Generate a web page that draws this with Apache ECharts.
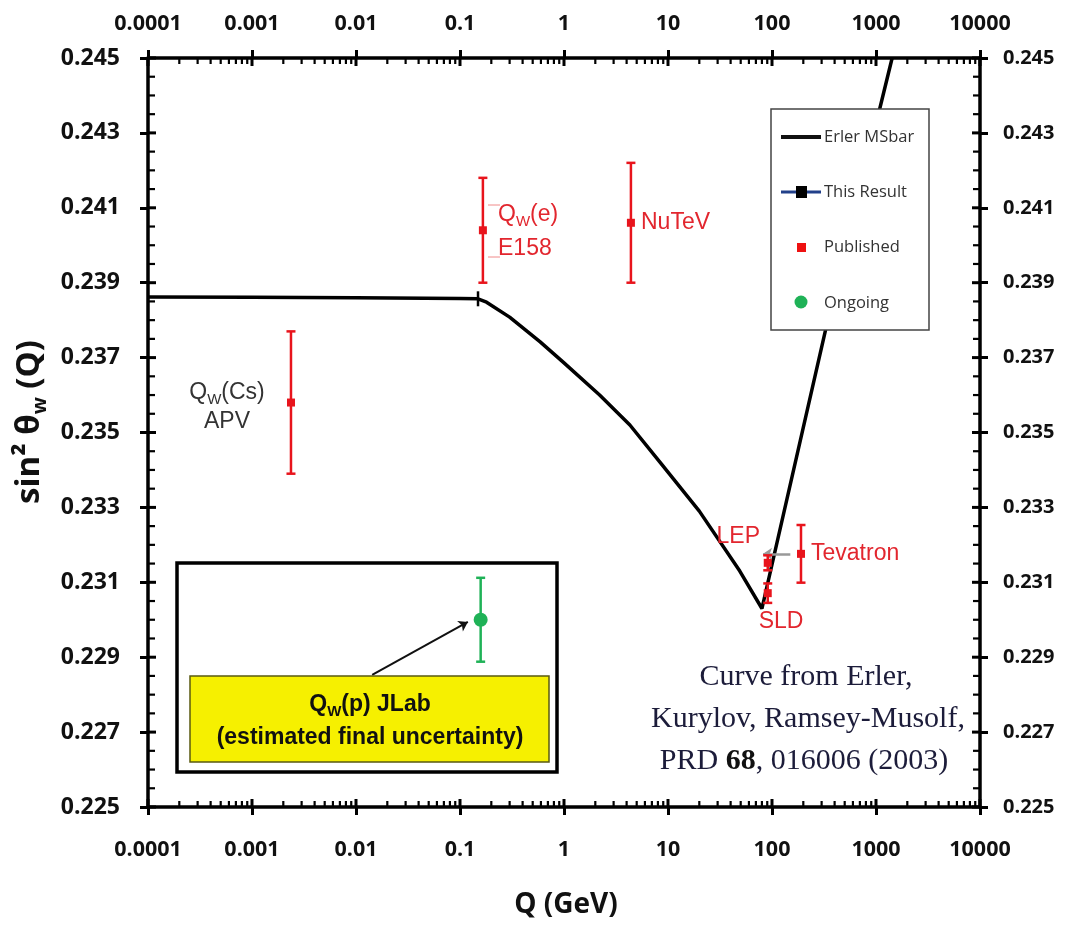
<!DOCTYPE html>
<html>
<head>
<meta charset="utf-8">
<script src="https://cdn.jsdelivr.net/npm/echarts@6/dist/echarts.min.js"></script>
<style>
  html, body { margin: 0; padding: 0; background: #fff; }
  #main { width: 1069px; height: 926px; }
</style>
</head>
<body>
<div id="main"></div>
<script>
// axis ranges and tick labels
const xMin = 0.0001, xMax = 10000;
const yMin = 0.225, yMax = 0.245, yStep = 0.002;
const xTickLabels = ["0.0001", "0.001", "0.01", "0.1", "1", "10", "100", "1000", "10000"];

// Erler MSbar running of sin^2 theta_W
const erlerQ = [0.0001, 0.001, 0.01, 0.1, 0.149, 0.18, 0.3, 0.59, 1.0, 2.2, 4.3, 8.4, 20, 49, 80, 325, 1430];
const erlerS = [0.23862, 0.23861, 0.2386, 0.23858, 0.23857, 0.23848, 0.23808, 0.23742, 0.23686, 0.236, 0.2352, 0.2342, 0.2329, 0.2313, 0.2303, 0.2377, 0.245];

// published measurements (red)
const pubNames = ["APV", "E158", "NuTeV", "LEP", "SLD", "Tevatron"];
const pubQ = [0.00237, 0.166, 4.4, 91, 91, 190];
const pubVal = [0.2358, 0.2404, 0.2406, 0.23152, 0.23071, 0.23176];
const pubErr = [0.0019, 0.0014, 0.0016, 0.0002, 0.00026, 0.00077];

// ongoing (green) and this result (black)
const ongoingQ = [0.158];
const ongoingVal = [0.2300];
const ongoingErr = [0.00112];
const thisQ = [0.149];
const thisVal = [0.23857];
const thisErr = [0.0002];

// annotation arrows [from, to]
const lepArrow = [[150, 0.23176], [82, 0.23176]];
const jlabArrow = [[0.0143, 0.22853], [0.119, 0.22994]];

const RED = "#e8141c";
const GREEN = "#1fb257";
const LABEL_RED = "#e2262e";
const AXIS_FONT = "'Open Sans'";

function toBars(qs, vals, errs) {
  return qs.map((q, i) => [q, vals[i], vals[i] - errs[i], vals[i] + errs[i]]);
}

function errorBarRenderer(color, shape, size, cap) {
  return function (params, api) {
    const q = api.value(0);
    const p = api.coord([q, api.value(1)]);
    const lo = api.coord([q, api.value(2)]);
    const hi = api.coord([q, api.value(3)]);
    const st = { stroke: color, lineWidth: 2.5 };
    const kids = [
      { type: "line", shape: { x1: p[0], y1: lo[1], x2: p[0], y2: hi[1] }, style: st },
      { type: "line", shape: { x1: p[0] - cap, y1: lo[1], x2: p[0] + cap, y2: lo[1] }, style: st },
      { type: "line", shape: { x1: p[0] - cap, y1: hi[1], x2: p[0] + cap, y2: hi[1] }, style: st }
    ];
    if (shape === "circle") {
      kids.push({ type: "circle", shape: { cx: p[0], cy: p[1], r: size / 2 }, style: { fill: color } });
    } else if (shape === "rect") {
      kids.push({ type: "rect", shape: { x: p[0] - size / 2, y: p[1] - size / 2, width: size, height: size }, style: { fill: color } });
    }
    return { type: "group", children: kids };
  };
}

// minor ticks (inside) and inner halves of major ticks
const tickData = [];
for (let k = -4; k <= 3; k++) {
  for (let m = 2; m <= 9; m++) tickData.push([m * Math.pow(10, k), yMin, 0]);
}
for (let k = -4; k <= 4; k++) tickData.push([Math.pow(10, k), yMin, 1]);
for (let i = 0; i <= 40; i++) {
  tickData.push([xMin, yMin + i * 0.0005, i % 4 === 0 ? 3 : 2]);
}

function renderTick(params, api) {
  const kind = api.value(2);
  const lines = [];
  if (kind < 2) {
    const v = api.value(0);
    const b = api.coord([v, yMin]), t = api.coord([v, yMax]);
    const len = kind === 0 ? 6 : 8;
    lines.push([b[0], b[1], b[0], b[1] - len], [t[0], t[1], t[0], t[1] + len]);
  } else {
    const v = api.value(1);
    const l = api.coord([xMin, v]), r = api.coord([xMax, v]);
    const len = kind === 2 ? 7 : 8;
    lines.push([l[0], l[1], l[0] + len, l[1]], [r[0], r[1], r[0] - len, r[1]]);
  }
  return {
    type: "group",
    children: lines.map((s) => ({
      type: "line",
      shape: { x1: s[0], y1: s[1], x2: s[2], y2: s[3] },
      style: { stroke: "#000", lineWidth: kind % 2 === 0 ? 2.2 : 3 }
    }))
  };
}

function xLabel(v) {
  const i = Math.round(Math.log10(v)) + 4;
  return xTickLabels[i] || "";
}

function labelStyle(size) {
  return { color: "#111", fontFamily: AXIS_FONT, fontWeight: "bold", fontSize: size };
}

function xAxisCfg(pos, margin) {
  return {
    type: "log", logBase: 10, min: xMin, max: xMax, position: pos,
    axisLine: { lineStyle: { color: "#000", width: 3.5 } },
    axisTick: { show: true, length: 8, lineStyle: { color: "#000", width: 3 } },
    axisLabel: Object.assign({ margin: margin, formatter: xLabel }, labelStyle(21.5)),
    splitLine: { show: false }, minorTick: { show: false }
  };
}

function yAxisCfg(pos, margin, size) {
  return {
    type: "value", min: yMin, max: yMax, interval: yStep, position: pos,
    axisLine: { show: true, lineStyle: { color: "#000", width: 3.5 } },
    axisTick: { show: true, length: 8, lineStyle: { color: "#000", width: 3 } },
    axisLabel: Object.assign({ margin: margin, formatter: (v) => v.toFixed(3) }, labelStyle(size)),
    splitLine: { show: false }
  };
}

const sub = { fontSize: 15, verticalAlign: "bottom", lineHeight: 15 };

function txt(x, y, text, color, size, align, rich, extra) {
  return {
    type: "text", x: x, y: y, z: 90,
    style: Object.assign({
      text: text, fill: color, fontSize: size, fontFamily: "Liberation Sans",
      align: align, textAlign: align, verticalAlign: "middle", textVerticalAlign: "middle",
      rich: rich
    }, extra || {})
  };
}

function subRich(color, size, bold) {
  return {
    a: { fontSize: size, fontWeight: bold ? "bold" : "normal", fill: color, fontFamily: "Liberation Sans", lineHeight: size + 6, verticalAlign: "middle" },
    b: Object.assign({ fill: color, fontWeight: bold ? "bold" : "normal", fontFamily: "Liberation Sans" }, sub)
  };
}

const chart = echarts.init(document.getElementById("main"));

const option = {
  animation: false,
  backgroundColor: "#fff",
  grid: { left: 148, right: 89, top: 58, bottom: 119 },
  xAxis: [xAxisCfg("bottom", 32), xAxisCfg("top", 23)],
  yAxis: [yAxisCfg("left", 28, 23), yAxisCfg("right", 23, 20)],
  graphic: [
    // y axis title
    {
      type: "text", x: 30, y: 422, rotation: Math.PI / 2, z: 90,
      style: {
        text: "{m|sin² θ}{s|w}{m| (Q)}", align: "center", textAlign: "center",
        verticalAlign: "middle", textVerticalAlign: "middle",
        rich: {
          m: { fontSize: 33, fontWeight: "bold", fontFamily: AXIS_FONT, fill: "#111", lineHeight: 40, verticalAlign: "middle" },
          s: { fontSize: 20, fontWeight: "bold", fontFamily: AXIS_FONT, fill: "#111", lineHeight: 22, verticalAlign: "bottom" }
        }
      }
    },
    // x axis title
    txt(566, 905, "Q (GeV)", "#111", 28, "center", null, { fontFamily: AXIS_FONT, fontWeight: "bold" }),

    // point labels
    txt(227, 393, "{a|Q}{b|W}{a|(Cs)}", "#333", 23, "center", subRich("#333", 23, false)),
    txt(227, 422, "APV", "#333", 23, "center"),
    txt(498, 215, "{a|Q}{b|W}{a|(e)}", LABEL_RED, 23, "left", subRich(LABEL_RED, 23, false)),
    txt(498, 249, "E158", LABEL_RED, 23, "left"),
    { type: "line", z: 50, shape: { x1: 488, y1: 205, x2: 500, y2: 205 }, style: { stroke: "#f08a8a", lineWidth: 1 } },
    { type: "line", z: 50, shape: { x1: 488, y1: 257, x2: 500, y2: 257 }, style: { stroke: "#f08a8a", lineWidth: 1 } },
    txt(641, 223, "NuTeV", LABEL_RED, 23, "left"),
    txt(811, 554, "Tevatron", LABEL_RED, 23, "left"),
    txt(760, 537, "LEP", LABEL_RED, 23, "right"),
    txt(781, 622, "SLD", LABEL_RED, 23, "center"),

    // inset frame with JLab box
    { type: "rect", z: 5, shape: { x: 177, y: 563, width: 380, height: 209 }, style: { fill: "none", stroke: "#000", lineWidth: 3.5 } },
    { type: "rect", z: 6, shape: { x: 190, y: 676, width: 359, height: 86 }, style: { fill: "#f6f000", stroke: "#5a5a10", lineWidth: 1.5 } },
    txt(370, 705, "{a|Q}{b|W}{a|(p) JLab}", "#111", 23, "center", subRich("#111", 23, true)),
    txt(370, 738, "(estimated final uncertainty)", "#111", 23, "center", null, { fontWeight: "bold" }),

    // citation
    txt(806, 677, "Curve from Erler,", "#1c1c3a", 30, "center", null, { fontFamily: "Liberation Serif" }),
    txt(808, 719, "Kurylov, Ramsey-Musolf,", "#1c1c3a", 30, "center", null, { fontFamily: "Liberation Serif" }),
    txt(804, 761, "{r|PRD }{b|68}{r|, 016006 (2003)}", "#1c1c3a", 30, "center", {
      r: { fontSize: 30, fontFamily: "Liberation Serif", fill: "#1c1c3a" },
      b: { fontSize: 30, fontFamily: "Liberation Serif", fontWeight: "bold", fill: "#111" }
    }),

    // legend
    { type: "rect", z: 80, shape: { x: 771, y: 109, width: 158, height: 221 }, style: { fill: "#fff", stroke: "#444", lineWidth: 1.5 } },
    { type: "line", z: 81, shape: { x1: 781, y1: 137, x2: 821, y2: 137 }, style: { stroke: "#111", lineWidth: 4 } },
    { type: "line", z: 81, shape: { x1: 781, y1: 192, x2: 821, y2: 192 }, style: { stroke: "#22408a", lineWidth: 3 } },
    { type: "rect", z: 82, shape: { x: 796, y: 186, width: 11, height: 12 }, style: { fill: "#000" } },
    { type: "rect", z: 81, shape: { x: 797, y: 243, width: 9, height: 9 }, style: { fill: "#ee1111" } },
    { type: "circle", z: 81, shape: { cx: 801, cy: 302, r: 6.5 }, style: { fill: GREEN } },
    txt(824, 137, "Erler MSbar", "#333", 16.5, "left", null, { fontFamily: AXIS_FONT }),
    txt(824, 192, "This Result", "#333", 16.5, "left", null, { fontFamily: AXIS_FONT }),
    txt(824, 247, "Published", "#333", 16.5, "left", null, { fontFamily: AXIS_FONT }),
    txt(824, 303, "Ongoing", "#333", 16.5, "left", null, { fontFamily: AXIS_FONT })
  ],
  series: [
    {
      name: "Erler MSbar", type: "line", data: erlerQ.map((q, i) => [q, erlerS[i]]),
      showSymbol: false, symbol: "none", smooth: false,
      lineStyle: { color: "#000", width: 3.5 }, z: 3
    },
    {
      name: "This Result", type: "custom", data: toBars(thisQ, thisVal, thisErr),
      renderItem: errorBarRenderer("#000", "none", 0, 0), clip: false, z: 4
    },
    {
      name: "Published", type: "custom", data: toBars(pubQ, pubVal, pubErr),
      renderItem: errorBarRenderer(RED, "rect", 8, 4.5), clip: false, z: 6
    },
    {
      name: "Ongoing", type: "custom", data: toBars(ongoingQ, ongoingVal, ongoingErr),
      renderItem: errorBarRenderer(GREEN, "circle", 14, 4.5), clip: false, z: 6
    },
    {
      name: "arrows", type: "line", data: [], z: 5,
      markLine: {
        silent: true, animation: false, label: { show: false },
        symbol: ["none", "arrow"], symbolSize: 9,
        data: [
          [{ coord: lepArrow[0], lineStyle: { color: "#999", width: 2.5, type: "solid" } }, { coord: lepArrow[1] }],
          [{ coord: jlabArrow[0], lineStyle: { color: "#111", width: 2, type: "solid" } }, { coord: jlabArrow[1] }]
        ]
      }
    },
    {
      name: "ticks", type: "custom", data: tickData, renderItem: renderTick,
      clip: false, silent: true, z: 10
    }
  ]
};

chart.setOption(option);
</script>
</body>
</html>
